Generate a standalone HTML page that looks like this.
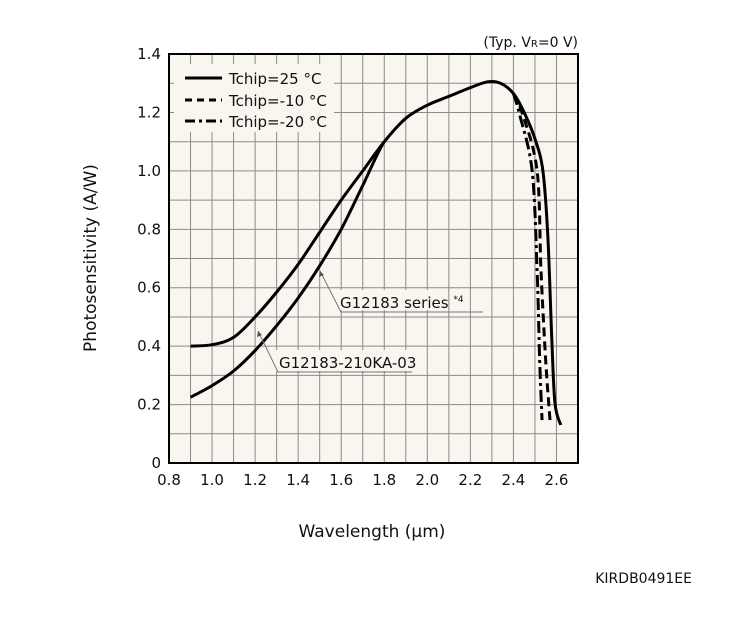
<!DOCTYPE html>
<html><head><meta charset="utf-8"><style>
html,body{margin:0;padding:0;background:#fff;}
svg text{font-family:"DejaVu Sans","Liberation Sans",sans-serif;fill:#111;}
</style></head><body>
<svg id="s" width="750" height="628" viewBox="0 0 750 628" xmlns="http://www.w3.org/2000/svg">
<rect x="169" y="54" width="409" height="409" fill="#f8f6ee"/>
<g id="grid" stroke="#8a8a8a" stroke-width="1"></g>
<rect x="174" y="64" width="160" height="68" fill="#f8f6ee"/>
<rect x="336" y="290" width="112" height="20" fill="#f8f6ee"/>
<rect x="276" y="350" width="132" height="21" fill="#f8f6ee"/>
<rect x="169" y="54" width="409" height="409" fill="none" stroke="#000" stroke-width="2"/>
<g id="curves" fill="none" stroke="#000" stroke-width="3" stroke-linejoin="round" stroke-linecap="butt"></g>
<g stroke="#777" stroke-width="1" fill="none">
<polyline points="320,271 341,312 483,312"/>
<polyline points="258,331 278,372 412,372"/>
</g>
<path d="M320,271 l-1,6 l5,-2 z M258,331 l-1,6 l5,-2 z" fill="#555"/>
<text x="340" y="308" font-size="15">G12183 series <tspan font-size="9" dy="-6">*4</tspan></text>
<text x="279" y="368" font-size="15">G12183-210KA-03</text>
<g stroke="#000" stroke-width="3">
<line x1="185" y1="78" x2="222" y2="78"/>
<line x1="185" y1="100" x2="222" y2="100" stroke-dasharray="7,5"/>
<line x1="185" y1="121" x2="222" y2="121" stroke-dasharray="10,4,3,4"/>
</g>
<text x="229" y="84" font-size="15">Tchip=25 °C</text>
<text x="229" y="106" font-size="15">Tchip=-10 °C</text>
<text x="229" y="127" font-size="15">Tchip=-20 °C</text>
<text x="578" y="47" font-size="14" text-anchor="end">(Typ. V<tspan font-size="10">R</tspan>=0 V)</text>
<g id="ticks" font-size="15"></g>
<text x="372" y="537" font-size="17" text-anchor="middle">Wavelength (μm)</text>
<text transform="translate(96,258) rotate(-90)" font-size="17" text-anchor="middle">Photosensitivity (A/W)</text>
<text x="692" y="583" font-size="14" text-anchor="end">KIRDB0491EE</text>
</svg>
<script>
const X=v=>169+(v-0.8)*215.26, Y=v=>463-v*292.1;
const ns="http://www.w3.org/2000/svg";
const g=document.getElementById('grid'),t=document.getElementById('ticks'),c=document.getElementById('curves');
function el(p,n,a){const e=document.createElementNS(ns,n);for(const k in a)e.setAttribute(k,a[k]);p.appendChild(e);return e;}
for(let i=1;i<19;i++){const x=X(0.8+i*0.1);el(g,'line',{x1:x,y1:54,x2:x,y2:463});}
for(let i=1;i<14;i++){const y=Y(i*0.1);el(g,'line',{x1:169,y1:y,x2:578,y2:y});}
for(let i=0;i<=9;i++){const v=0.8+i*0.2;const e=el(t,'text',{x:X(v),y:485,'text-anchor':'middle'});e.textContent=v.toFixed(1);}
for(let i=0;i<=7;i++){const v=i*0.2;const e=el(t,'text',{x:161,y:Y(v)+5,'text-anchor':'end'});e.textContent=i==0?'0':v.toFixed(1);}
function cr(pts){let d='M'+pts[0].join(',');for(let i=0;i<pts.length-1;i++){const p0=pts[i-1]||pts[i],p1=pts[i],p2=pts[i+1],p3=pts[i+2]||p2;
d+=` C${p1[0]+(p2[0]-p0[0])/6},${p1[1]+(p2[1]-p0[1])/6} ${p2[0]-(p3[0]-p1[0])/6},${p2[1]-(p3[1]-p1[1])/6} ${p2[0]},${p2[1]}`;}return d;}
const P=a=>a.map(([x,y])=>[X(x),Y(y)]);
const common=[[1.8,1.1],[1.9,1.18],[2.0,1.225],[2.1,1.255],[2.2,1.285],[2.28,1.305],[2.34,1.3],[2.4,1.265]];
const up=[[0.9,0.4],[1.0,0.405],[1.1,0.43],[1.2,0.5],[1.3,0.585],[1.4,0.68],[1.5,0.79],[1.6,0.9],[1.7,1.0]];
const lo=[[0.9,0.225],[1.0,0.265],[1.1,0.315],[1.2,0.385],[1.3,0.47],[1.4,0.565],[1.5,0.675],[1.6,0.8],[1.7,0.95]];
const tail25=[[2.45,1.2],[2.5,1.11],[2.537,1.0],[2.56,0.775],[2.578,0.43],[2.593,0.205],[2.62,0.13]];
el(c,'path',{d:cr(P(up.concat(common,tail25)))});
el(c,'path',{d:cr(P(lo.concat([[1.8,1.1],[1.9,1.18]]))).replace(/ C[^C]*$/,'')});
el(c,'path',{d:cr(P([[2.4,1.265],[2.44,1.2],[2.51,1.0],[2.528,0.66],[2.55,0.35],[2.57,0.147]])),'stroke-dasharray':'9,5'});
el(c,'path',{d:cr(P([[2.4,1.265],[2.43,1.19],[2.487,1.0],[2.51,0.66],[2.522,0.35],[2.533,0.147]])),'stroke-dasharray':'12,4,3,4'});
</script>
</body></html>
